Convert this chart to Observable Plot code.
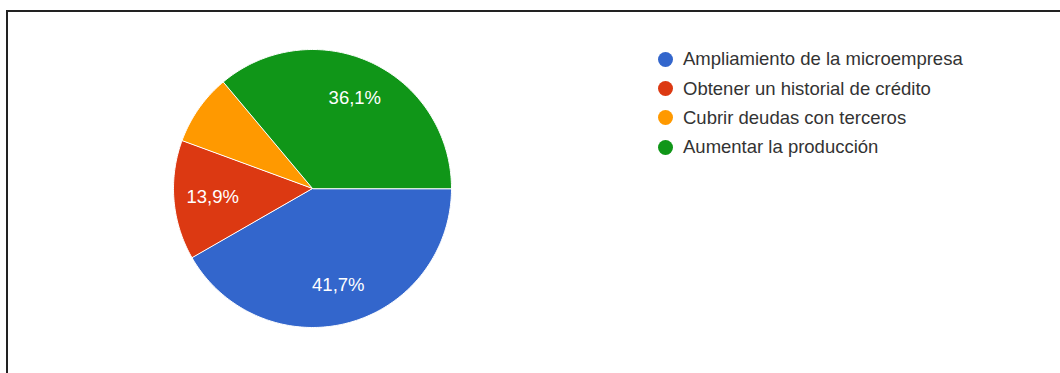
<!DOCTYPE html>
<html>
<head>
<meta charset="utf-8">
<script src="https://cdn.jsdelivr.net/npm/d3@7"></script>
<script src="https://cdn.jsdelivr.net/npm/@observablehq/plot@0.6"></script>
<style>
  html, body { margin: 0; padding: 0; background: #fff; }
  body { width: 1060px; height: 373px; position: relative; overflow: hidden; font-family: "Liberation Sans", Arial, sans-serif; }
  #frame { position: absolute; left: 6px; top: 10px; width: 1100px; height: 420px; border: 2px solid #222; box-sizing: border-box; }
  #chart { position: absolute; left: 0; top: 0; }
  #legend { position: absolute; left: 658px; top: 44.5px; }
  .item { display: flex; align-items: center; height: 29.4px; font-size: 18.5px; color: #333; white-space: nowrap; }
  .dot { width: 15px; height: 15px; border-radius: 50%; margin-right: 10px; flex: none; }
</style>
</head>
<body>
<div id="frame"></div>
<div id="chart"></div>
<div id="legend"></div>
<script>
const categories = ["Ampliamiento de la microempresa", "Obtener un historial de crédito", "Cubrir deudas con terceros", "Aumentar la producción"];
const values = [41.7, 13.9, 8.3, 36.1];
const colors = ["#3366cc", "#dc3912", "#ff9900", "#109618"];

const total = d3.sum(values);
const points = [];
const labels = [];
let cum = 0;
categories.forEach((cat, i) => {
  const a0 = cum / total * 2 * Math.PI;
  cum += values[i];
  const a1 = cum / total * 2 * Math.PI;
  const n = Math.max(2, Math.ceil((a1 - a0) / (Math.PI / 180)));
  points.push({cat, x: 0, y: 0});
  for (let k = 0; k <= n; k++) {
    const a = a0 + (a1 - a0) * k / n;
    points.push({cat, x: Math.cos(a), y: -Math.sin(a)});
  }
  const am = (a0 + a1) / 2;
  if (values[i] >= 10) {
    labels.push({cat, x: 0.72 * Math.cos(am), y: -0.72 * Math.sin(am), text: values[i].toFixed(1).replace(".", ",") + "%"});
  }
});

const chart = Plot.plot({
  width: 1060,
  height: 373,
  marginLeft: 173,
  marginRight: 609,
  marginTop: 49,
  marginBottom: 46,
  x: {domain: [-1, 1], axis: null},
  y: {domain: [-1, 1], axis: null},
  color: {domain: categories, range: colors},
  style: {background: "transparent", fontFamily: "Liberation Sans, Arial, sans-serif"},
  marks: [
    Plot.line(points, {x: "x", y: "y", z: "cat", fill: "cat", stroke: "white", strokeWidth: 1, curve: "linear-closed"}),
    Plot.text(labels, {x: "x", y: "y", text: "text", fill: "white", fontSize: 18.5})
  ]
});
document.getElementById("chart").appendChild(chart);

const legend = document.getElementById("legend");
categories.forEach((cat, i) => {
  const item = document.createElement("div");
  item.className = "item";
  const dot = document.createElement("span");
  dot.className = "dot";
  dot.style.background = colors[i];
  const label = document.createElement("span");
  label.textContent = cat;
  item.appendChild(dot);
  item.appendChild(label);
  legend.appendChild(item);
});
</script>
</body>
</html>
